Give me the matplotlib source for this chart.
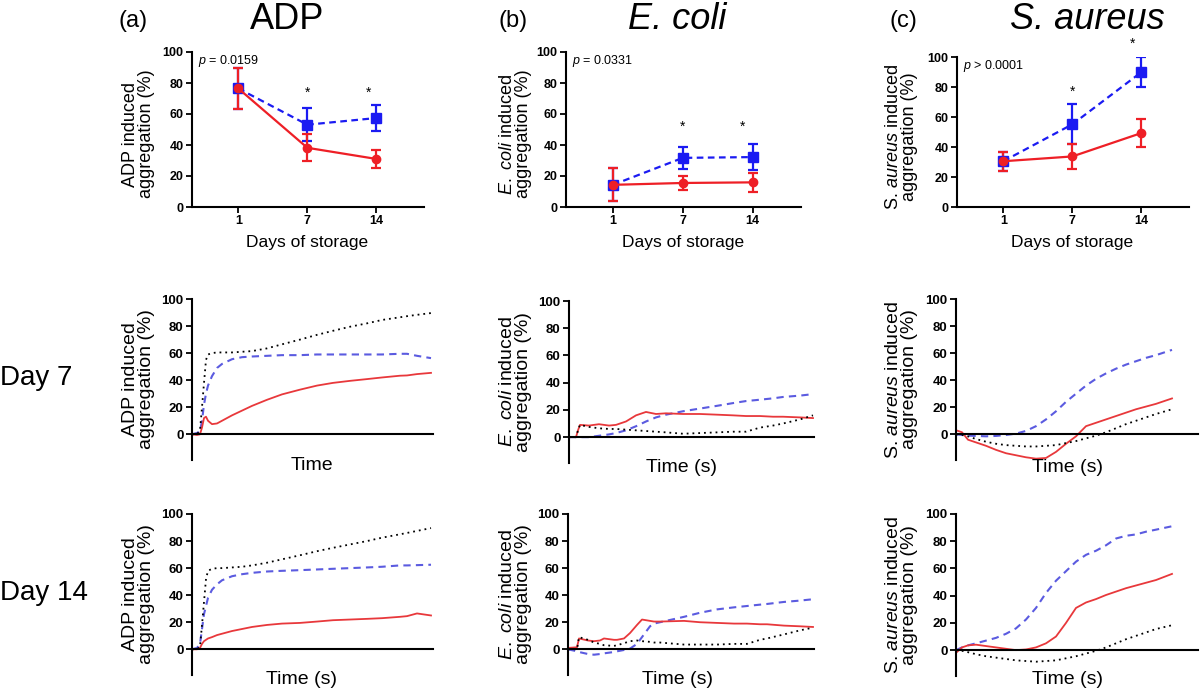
import matplotlib.pyplot as plt

plt.rcParams['font.family'] = ['Liberation Sans', 'DejaVu Sans']
plt.rcParams['mathtext.fontset'] = 'custom'
plt.rcParams['mathtext.rm'] = 'Liberation Sans'
plt.rcParams['mathtext.it'] = 'Liberation Sans:italic'

W, H = 1200, 697
RED = '#ee1f26'
BLUE = '#1b1bf2'
TRED = '#e8383b'
TBLUE = '#5b5be0'

# ---- top row: aggregation vs days of storage (mean +/- SD) ----
days = ["1", "7", "14"]
adp_red = [76.5, 38.2, 31.0]
adp_red_err = [13.5, 8.7, 6.0]
adp_blue = [76.5, 53.1, 57.4]
adp_blue_err = [13.5, 10.8, 8.3]
ecoli_red = [14.3, 15.5, 15.9]
ecoli_red_err = [10.6, 4.4, 6.2]
ecoli_blue = [14.3, 31.7, 32.2]
ecoli_blue_err = [10.6, 7.1, 8.4]
saureus_red = [30.5, 33.7, 49.3]
saureus_red_err = [6.5, 8.1, 9.4]
saureus_blue = [30.5, 55.1, 89.9]
saureus_blue_err = [6.5, 13.3, 10.0]

# ---- aggregation traces ----
adp_t = [0, 5, 8, 10, 12, 14, 16, 20, 25, 30, 40, 50, 60, 75, 90, 108, 125,
         141, 158, 175, 190, 208, 215, 225, 239]
adp7_black = [0, 0, 3, 20, 38, 55, 59, 60, 60.5, 60.5, 60.5, 61, 61.5, 63.5, 66.5,
              70, 73.5, 76.5, 79.5, 82, 84.5, 86.5, 87.3, 88.3, 89.6]
adp7_blue = [0, 1, 2, 10, 22, 30, 36, 43, 49, 52, 55.5, 57, 57.5, 58, 58.5, 58.5,
             59, 59, 59, 59, 59, 59.5, 59.5, 58, 56.3]
adp7_red = [0, -0.5, 0, 5, 12, 13, 10, 7.5, 8, 10, 14, 17.5, 21, 25.5, 29.5, 33,
            36, 38, 39.5, 40.8, 42, 43.3, 43.5, 44.5, 45.4]
adp14_black = [0, 0, 2, 18, 35, 52, 58, 59.5, 60, 60, 60.5, 61, 62, 64, 66.5, 69.5,
               72.5, 75, 77.5, 80, 82.5, 85, 86, 87.5, 89.6]
adp14_blue = [0, 1, 4, 15, 26, 32, 38, 44, 48, 51, 54, 55.5, 56.5, 57.5, 58, 58.5,
              59, 59.5, 60, 60.5, 61, 62, 62, 62.2, 62.5]
adp14_red = [0, 0, 1, 4, 6, 7, 8, 9, 10.5, 11.5, 13.5, 15, 16.5, 18, 19, 19.5,
             20.5, 21.5, 22, 22.5, 23, 24, 24.5, 26.5, 25]

ecoli7_t = [0, 7, 9, 11, 20, 30, 40, 47, 57, 67, 77, 87, 97, 114, 131, 148, 164,
            177, 191, 204, 214, 231, 244]
ecoli7_black = [0, 0, 5, 9, 7.5, 6.5, 6, 6, 5.5, 5, 4.5, 4, 3.5, 2.5, 3, 3.5, 4,
                4, 7, 8.5, 10, 13, 16]
ecoli7_blue = [0, 0, 0, 0, 0, 1, 2, 3, 5, 8, 11.5, 14.5, 16.5, 19, 21, 23, 25,
               26.5, 27.5, 28.5, 29.5, 30.5, 31.6]
ecoli7_red = [0, 0, 5, 9, 8.5, 9.5, 8.5, 9, 11.5, 16, 18.5, 17, 17.5, 17, 17,
              16.5, 16, 15.5, 15.5, 15, 15, 14.5, 14]

ecoli14_t = [0, 9, 11, 20, 26, 32, 36, 46, 49, 56, 62, 69, 74, 82, 86, 92, 116,
             132, 149, 166, 179, 192, 199, 216, 232, 245]
ecoli14_black = [0, 0, 9, 7, 5, 4, 3, 2.5, 3, 4.5, 6, 6.5, 6, 5.5, 5, 5, 3.5,
                 3.5, 3.5, 4, 4, 7, 8, 11, 14, 16]
ecoli14_blue = [0, -1.5, -2, -3.5, -4, -3.5, -3, -2, -1.5, -0.5, 0.5, 4, 9, 17,
                19, 20, 24, 27, 29.5, 31, 32, 33, 33.5, 35, 36, 37]
ecoli14_red = [1, 1.5, 8, 6.5, 6, 6.5, 8, 7, 7, 8, 12, 18, 22, 21, 20.5, 20.5,
               21, 20, 19.5, 19, 19, 18.5, 18.5, 17.5, 17, 16.5]

saureus_t = [0, 6, 12, 20, 30, 40, 50, 60, 70, 80, 90, 100, 110, 120, 130, 140,
             150, 160, 170, 180, 190, 200, 216]
saureus7_black = [0, -0.5, -1.5, -3.5, -5.5, -7, -8, -8.5, -9, -9, -8.5, -8,
                  -6.5, -5, -3, -1, 1.5, 4.5, 7.5, 10, 12.5, 15, 18.5]
saureus7_blue = [0, -0.5, -1, -1.2, -1.5, -1.2, -0.5, 0.5, 2.5, 6, 11, 17, 24,
                 30, 36, 41, 45, 48.5, 51.5, 54, 56.5, 58.5, 62.4]
saureus7_red = [3, 1.5, -4, -6, -8.5, -11.5, -14, -15.5, -17, -18, -17.5, -13,
                -7, -1.5, 6, 8.5, 11, 13.5, 16, 18.5, 20.5, 22.5, 26.5]
saureus14_black = [0, -0.5, -1.5, -3, -4.5, -5.5, -6.5, -7.5, -8, -8.5, -8, -7.5,
                   -6, -4.5, -2.5, -0.5, 2, 5, 8, 10.5, 13, 15.5, 18.3]
saureus14_blue = [0, 2, 3.5, 5, 7, 9, 12, 16, 22.5, 31, 42, 51, 58, 65, 70, 73,
                  77, 82, 84, 85, 87, 88.5, 91]
saureus14_red = [-2, 2, 3.5, 4, 3, 2, 1, 0, 0.5, 2, 5, 10, 20, 31, 35, 37.5,
                 40.5, 43, 45.5, 47.5, 49.5, 51.5, 56]

fig = plt.figure(figsize=(W / 100, H / 100), dpi=100)


def px_axes(left, right, top, bottom):
    return fig.add_axes([left / W, 1 - bottom / H, (right - left) / W, (bottom - top) / H])


def style_axes(ax, tick_size):
    for s in ['top', 'right']:
        ax.spines[s].set_visible(False)
    for s in ['left', 'bottom']:
        ax.spines[s].set_linewidth(1.5)
    ax.tick_params(width=1.3, length=4, pad=2, labelsize=tick_size)
    for lab in ax.get_yticklabels() + ax.get_xticklabels():
        lab.set_fontweight('bold')


def summary_panel(box, red, red_err, blue, blue_err, ylabel, ptext, stars, label_x):
    ax = px_axes(*box)
    x = list(range(len(days)))
    ax.errorbar(x, blue, yerr=blue_err, color=BLUE, ls=(0, (3, 2)), lw=1.6,
                marker='s', ms=7, capsize=3.5, elinewidth=1.6, capthick=1.6)
    ax.errorbar(x, red, yerr=red_err, color=RED, ls='-', lw=1.6,
                marker='o', ms=6, capsize=3.5, elinewidth=1.6, capthick=1.6)
    ax.set_xticks(x, days)
    ax.set_xlim(-0.67, 2.69)
    ax.set_ylim(0, 100)
    ax.set_yticks(range(0, 101, 20))
    style_axes(ax, 9)
    ax.set_ylabel(ylabel, fontsize=13, linespacing=0.95)
    ax.yaxis.set_label_coords((label_x - box[0]) / (box[1] - box[0]), 0.47)
    ax.text(0.025, 0.94, ptext, transform=ax.transAxes, fontsize=9, va='center')
    for sx, sy in stars:
        ax.text(sx, sy, '*', ha='center', va='center', fontsize=10, clip_on=False)
    return ax


def trace_panel(box, t, black, blue, red, ylabel, label_x, xmax):
    ax = px_axes(*box)
    ax.plot(t, blue, color=TBLUE, ls=(0, (3.5, 2.5)), lw=1.5)
    ax.plot(t, red, color=TRED, lw=1.3)
    ax.plot(t, black, color='black', ls=(0, (1, 2.2)), lw=1.3)
    ax.set_xlim(0, xmax)
    ax.set_ylim(-19, 100)
    ax.set_yticks(range(0, 101, 20))
    ax.set_xticks([])
    ax.spines['bottom'].set_position(('data', 0))
    style_axes(ax, 9.5)
    ax.set_ylabel(ylabel, fontsize=14, linespacing=0.95)
    ax.yaxis.set_label_coords((label_x - box[0]) / (box[1] - box[0]), 0.5)
    return ax


adp_lab = "ADP induced\naggregation (%)"
ecoli_lab = "$\\it{E.\\ coli}$ induced\naggregation (%)"
saureus_lab = "S. $\\it{aureus}$ induced\naggregation (%)"

summary_panel((192, 424, 52, 207), adp_red, adp_red_err, adp_blue, adp_blue_err,
              adp_lab, "$\\it{p}$ = 0.0159", [(1, 73.5), (1.88, 73.5)], 155)
summary_panel((566, 801, 52, 207), ecoli_red, ecoli_red_err, ecoli_blue, ecoli_blue_err,
              ecoli_lab, "$\\it{p}$ = 0.0331", [(1, 52), (1.86, 52)], 532)
summary_panel((957, 1189, 57, 207), saureus_red, saureus_red_err, saureus_blue,
              saureus_blue_err, saureus_lab, "$\\it{p}$ > 0.0001",
              [(1, 76.7), (1.87, 109)], 918)

trace_panel((192, 433, 299, 460), adp_t, adp7_black, adp7_blue, adp7_red, adp_lab, 155, 241)
trace_panel((569, 814, 301, 463), ecoli7_t, ecoli7_black, ecoli7_blue, ecoli7_red, ecoli_lab, 532, 245)
trace_panel((956, 1198, 299, 460), saureus_t, saureus7_black, saureus7_blue, saureus7_red, saureus_lab, 918, 242)
trace_panel((192, 433, 514, 675), adp_t, adp14_black, adp14_blue, adp14_red, adp_lab, 155, 241)
trace_panel((568, 814, 514, 675), ecoli14_t, ecoli14_black, ecoli14_blue, ecoli14_red, ecoli_lab, 532, 246)
trace_panel((956, 1198, 514, 676), saureus_t, saureus14_black, saureus14_blue, saureus14_red, saureus_lab, 918, 242)


def ftext(x, y, s, **kw):
    fig.text(x / W, 1 - y / H, s, **kw)


# titles
ftext(133, 27, "(a)", fontsize=17, ha='center', va='baseline')
ftext(287, 29, "ADP", fontsize=26, ha='center', va='baseline')
ftext(513, 27, "(b)", fontsize=17, ha='center', va='baseline')
ftext(677, 29, "E. coli", fontsize=26, ha='center', va='baseline', style='italic')
ftext(903, 27, "(c)", fontsize=17, ha='center', va='baseline')
ftext(1087, 29, "S. aureus", fontsize=26, ha='center', va='baseline', style='italic')

# x labels
for xc in [307, 683, 1072]:
    ftext(xc, 243, "Days of storage", fontsize=12.5, ha='center', va='center')
ftext(312, 465, "Time", fontsize=14, ha='center', va='center')
ftext(681, 468, "Time (s)", fontsize=14, ha='center', va='center')
ftext(1067, 468, "Time (s)", fontsize=14, ha='center', va='center')
ftext(301, 680, "Time (s)", fontsize=14, ha='center', va='center')
ftext(677, 680, "Time (s)", fontsize=14, ha='center', va='center')
ftext(1067, 680, "Time (s)", fontsize=14, ha='center', va='center')

# row labels
ftext(0, 378, "Day 7", fontsize=20, ha='left', va='center')
ftext(0, 593, "Day 14", fontsize=20, ha='left', va='center')

fig.savefig("out.png", dpi=100)
